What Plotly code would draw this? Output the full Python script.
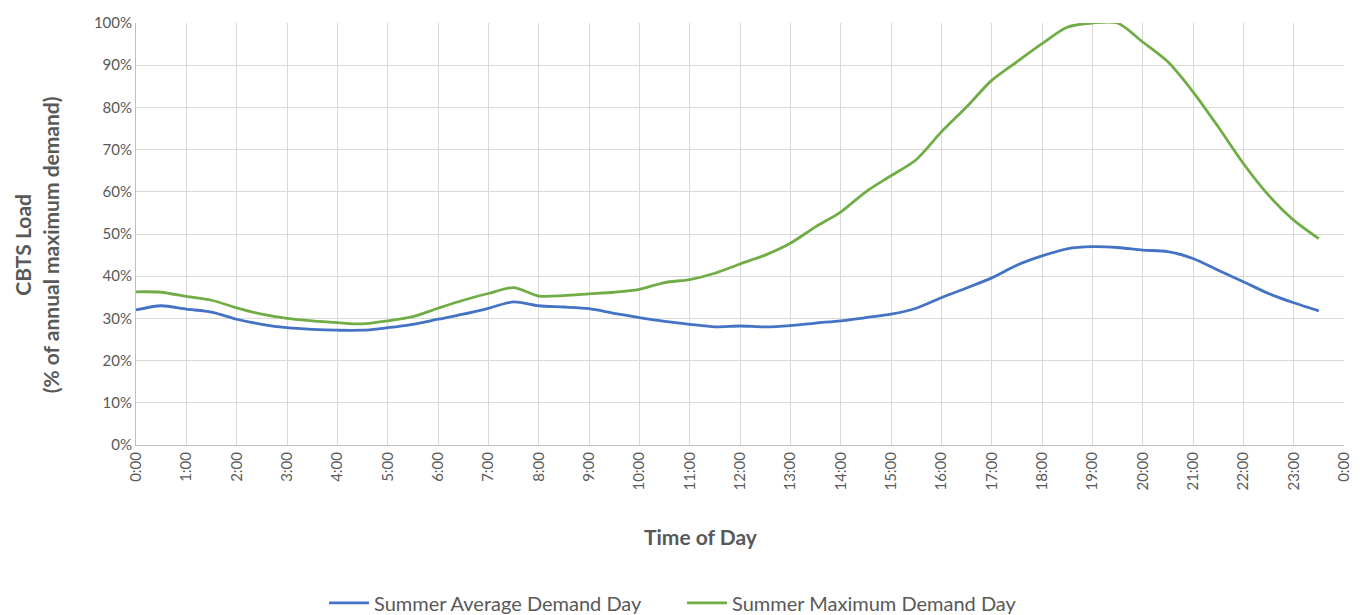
import plotly.graph_objects as go

times = ["0:00", "0:30", "1:00", "1:30", "2:00", "2:30", "3:00", "3:30",
         "4:00", "4:30", "5:00", "5:30", "6:00", "6:30", "7:00", "7:30",
         "8:00", "8:30", "9:00", "9:30", "10:00", "10:30", "11:00", "11:30",
         "12:00", "12:30", "13:00", "13:30", "14:00", "14:30", "15:00", "15:30",
         "16:00", "16:30", "17:00", "17:30", "18:00", "18:30", "19:00", "19:30",
         "20:00", "20:30", "21:00", "21:30", "22:00", "22:30", "23:00", "23:30"]

# % of annual maximum demand
avg_day = [32.0, 33.0, 32.2, 31.5, 29.8, 28.6, 27.8, 27.4,
           27.2, 27.2, 27.8, 28.6, 29.8, 31.0, 32.4, 33.9,
           33.0, 32.7, 32.3, 31.2, 30.2, 29.3, 28.6, 28.0,
           28.2, 28.0, 28.3, 28.9, 29.4, 30.2, 31.0, 32.4,
           34.9, 37.2, 39.6, 42.6, 44.8, 46.5, 47.0, 46.8,
           46.2, 45.8, 44.2, 41.4, 38.7, 35.9, 33.7, 31.8]

max_day = [36.3, 36.2, 35.2, 34.3, 32.5, 31.0, 30.0, 29.4,
           29.0, 28.7, 29.4, 30.4, 32.4, 34.3, 35.9, 37.3,
           35.3, 35.4, 35.8, 36.2, 36.9, 38.5, 39.2, 40.7,
           42.9, 45.0, 47.8, 51.7, 55.2, 60.0, 63.8, 67.6,
           74.2, 80.1, 86.4, 90.8, 95.1, 99.0, 100.0, 100.0,
           95.5, 90.8, 83.7, 75.4, 66.7, 59.2, 53.3, 48.9]

tick_labels = ["0:00", "1:00", "2:00", "3:00", "4:00", "5:00", "6:00", "7:00",
               "8:00", "9:00", "10:00", "11:00", "12:00", "13:00", "14:00", "15:00",
               "16:00", "17:00", "18:00", "19:00", "20:00", "21:00", "22:00", "23:00",
               "0:00"]


def to_hours(t):
    h, m = t.split(":")
    return int(h) + int(m) / 60


hours = [to_hours(t) for t in times]
grey = "#595959"
font = "Lato"

fig = go.Figure()
fig.add_trace(go.Scatter(x=hours, y=[v / 100 for v in avg_day], mode="lines",
                         name="Summer Average Demand Day", cliponaxis=False,
                         line=dict(color="#4472C4", width=2.8, shape="spline", smoothing=0.8)))
fig.add_trace(go.Scatter(x=hours, y=[v / 100 for v in max_day], mode="lines",
                         name="Summer Maximum Demand Day", cliponaxis=False,
                         line=dict(color="#70AD47", width=2.8, shape="spline", smoothing=0.8)))

# page body adds an 8px margin, so the figure is sized to fit inside it
fig.update_layout(
    width=1356, height=607,
    margin=dict(l=128, r=20, t=15, b=170, autoexpand=False),
    plot_bgcolor="white", paper_bgcolor="white",
    font=dict(family=font, color=grey, size=15),
    showlegend=True,
    legend=dict(orientation="h", x=0.452, xanchor="center", y=-0.374, yanchor="middle",
                font=dict(size=20, color=grey), itemwidth=40, entrywidth=303,
                tracegroupgap=0),
    xaxis=dict(range=[0, 24], tickvals=list(range(25)), ticktext=tick_labels,
               tickangle=-90, showgrid=True, gridcolor="#d9d9d9", gridwidth=1,
               showline=True, linecolor="#bfbfbf", linewidth=1, zeroline=False,
               tickfont=dict(size=15, color=grey), fixedrange=True),
    yaxis=dict(range=[0, 1], dtick=0.1, tickformat=".0%", showgrid=True,
               gridcolor="#d9d9d9", gridwidth=1, showline=True, linecolor="#bfbfbf",
               linewidth=1, zeroline=False, ticks="", tickfont=dict(size=15, color=grey)),
    annotations=[
        dict(text="<b>Time of Day</b>", xref="paper", yref="paper", x=0.468, y=-0.218,
             xanchor="center", yanchor="middle", showarrow=False,
             font=dict(size=21, color=grey, family=font)),
        dict(text="<b>CBTS Load<br>(% of annual maximum demand)</b>", xref="paper",
             yref="paper", x=-0.0825, y=0.474, xanchor="center", yanchor="middle",
             textangle=-90, showarrow=False,
             font=dict(size=21, color=grey, family=font)),
    ],
)

fig.write_html("out.html")
